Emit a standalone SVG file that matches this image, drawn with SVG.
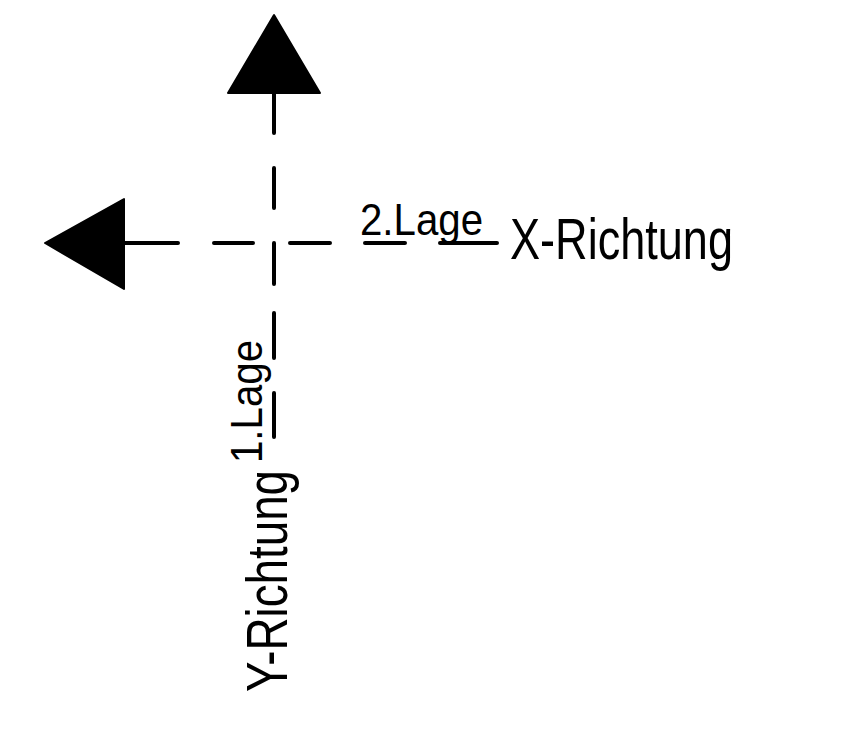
<svg xmlns="http://www.w3.org/2000/svg" width="848" height="731" viewBox="0 0 848 731">
  <style>
    .ax { stroke: #000; stroke-width: 4; stroke-linecap: round; fill: none; }
    .head { fill: #000; stroke: #000; stroke-width: 2; stroke-linejoin: round; }
    .big { font-family: "Liberation Sans", Arial, sans-serif; font-size: 58px; fill: #000; }
    .small { font-family: "Liberation Sans", Arial, sans-serif; font-size: 45px; fill: #000; }
  </style>
  <rect width="848" height="731" fill="#fff"/>
  <g id="connectors">
    <path class="ax" d="M274 93 V133 M274 168 V208 M274 243 V284 M274 313 V358 M274 393 V437"/>
    <path class="ax" d="M124 243 H178 M214 243 H253 M290 243 H330 M365 243 H405 M440 243 H497"/>
  </g>
  <g id="arrow-y">
    <polygon class="head" points="274,15 228,93 320,93"/>
  </g>
  <g id="arrow-x">
    <polygon class="head" points="45,243 124,199 124,289"/>
  </g>
  <g id="label-x">
    <text class="small" x="360" y="235" textLength="123" lengthAdjust="spacingAndGlyphs">2.Lage</text>
    <text class="big" x="510" y="259" textLength="223" lengthAdjust="spacingAndGlyphs">X-Richtung</text>
  </g>
  <g id="label-y">
    <text class="small" transform="translate(262,463) rotate(-90)" textLength="123" lengthAdjust="spacingAndGlyphs">1.Lage</text>
    <text class="big" transform="translate(287,692) rotate(-90)" textLength="222" lengthAdjust="spacingAndGlyphs">Y-Richtung</text>
  </g>
</svg>
